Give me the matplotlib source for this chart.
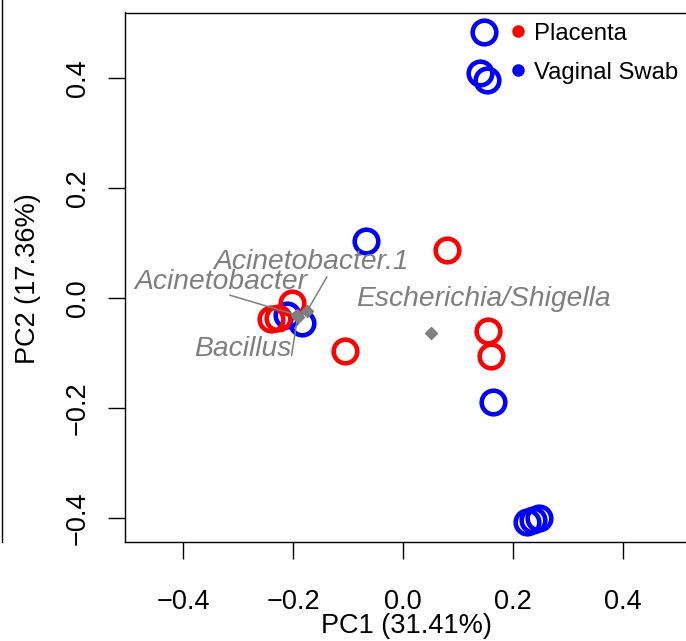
import matplotlib
matplotlib.use("Agg")
import matplotlib.pyplot as plt
from matplotlib.lines import Line2D

plt.rcParams['font.family'] = ['Liberation Sans', 'DejaVu Sans']

# PCA scores per sample type
placenta_pc1 = [0.079, -0.203, -0.228, -0.241, -0.106, 0.154, 0.159]
placenta_pc2 = [0.087, -0.009, -0.036, -0.038, -0.096, -0.060, -0.105]

swab_pc1 = [0.147, 0.139, 0.152, -0.068, -0.212, -0.184, 0.163, 0.225, 0.236, 0.246]
swab_pc2 = [0.484, 0.409, 0.396, 0.104, -0.031, -0.045, -0.189, -0.407, -0.404, -0.400]

# taxa loadings and where their names sit
taxa = ['Acinetobacter.1', 'Acinetobacter', 'Escherichia/Shigella', 'Bacillus']
taxa_pc1 = [-0.175, -0.194, 0.050, -0.192]
taxa_pc2 = [-0.024, -0.031, -0.064, -0.034]
label_pc1 = [-0.168, -0.332, 0.145, -0.292]
label_pc2 = [0.065, 0.029, -0.002, -0.093]
# leader line start points (None = no leader)
leader_pc1 = [-0.139, -0.315, None, -0.203]
leader_pc2 = [0.038, 0.005, None, -0.104]

W, H = 686, 641
fig = plt.figure(figsize=(W / 100, H / 100), dpi=100)
ax = fig.add_axes([125 / W, (H - 541.5) / H, 562 / W, 529 / H])

ring = dict(linestyle='none', marker='o', markersize=17, markerfacecolor='none',
            markeredgewidth=3.3)
ax.plot(swab_pc1, swab_pc2, markeredgecolor='#0000FF', **ring)
ax.plot(placenta_pc1, placenta_pc2, markeredgecolor='#FF0000', **ring)

grey = '#7F7F7F'
for i, name in enumerate(taxa):
    if leader_pc1[i] is not None:
        ax.plot([leader_pc1[i], taxa_pc1[i]], [leader_pc2[i], taxa_pc2[i]],
                color=grey, lw=1.1)
    ax.text(label_pc1[i], label_pc2[i], name, color=grey, fontsize=20.3,
            style='italic', ha='center', va='center')
ax.plot(taxa_pc1, taxa_pc2, linestyle='none', marker='D', markersize=5.8, color=grey)

ax.set_xlim(-0.506, 0.516)
ax.set_ylim(-0.4427, 0.519)
ax.set_xticks([-0.4, -0.2, 0.0, 0.2, 0.4])
ax.set_yticks([-0.4, -0.2, 0.0, 0.2, 0.4])
ax.set_xticklabels(['−0.4', '−0.2', '0.0', '0.2', '0.4'])
ax.set_yticklabels(['−0.4', '−0.2', '0.0', '0.2', '0.4'], rotation=90, va='center')
ax.tick_params(axis='both', direction='out', length=12.5, width=1, labelsize=19.5)
ax.tick_params(axis='x', pad=22)
ax.tick_params(axis='y', pad=12)
for s in ax.spines.values():
    s.set_linewidth(1)

fig.text(406 / W, 1 - 626 / H, 'PC1 (31.41%)', fontsize=19.5, ha='center', va='center')
fig.text(28 / W, 1 - 279 / H, 'PC2 (17.36%)', fontsize=19.5, ha='center', va='center',
         rotation=90)

handles = [Line2D([], [], linestyle='none', marker='o', markersize=8, color='#FF0000'),
           Line2D([], [], linestyle='none', marker='o', markersize=8, color='#0000FF')]
ax.legend(handles, ['Placenta', 'Vaginal Swab'], loc='upper left',
          bbox_to_anchor=(0.652, 1.003), frameon=False, fontsize=17.2,
          handletextpad=0.1, handlelength=1.2, labelspacing=0.7, borderpad=0.0)

# edge of the neighbouring panel
fig.add_artist(Line2D([1.5 / W, 1.5 / W], [1, (H - 542) / H], color='black', lw=1))

fig.savefig('out.png', dpi=100)
